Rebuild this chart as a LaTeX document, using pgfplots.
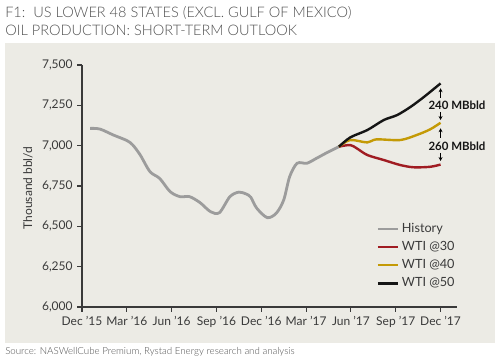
\documentclass[border=0pt]{standalone}
\usepackage{pgfplots}
\pgfplotsset{compat=1.18}
\usetikzlibrary{arrows.meta}
\usepackage{fontspec}
\setmainfont{Lato}
\newfontfamily\lightfont{Lato Light}
\definecolor{bg}{HTML}{ECEBE5}
\definecolor{titlegray}{HTML}{505050}
\definecolor{axisc}{HTML}{3A3A3A}
\definecolor{histgray}{HTML}{9C9C9C}
\definecolor{wtired}{HTML}{A01C22}
\definecolor{wtigold}{HTML}{C49A06}
\definecolor{wtiblack}{HTML}{151515}
\begin{document}
\begin{tikzpicture}
\path[use as bounding box] (0,0) rectangle (375pt,-270.75pt);
\fill[bg] (3.75pt,-32.25pt) rectangle (371.25pt,-257.25pt);
\node[anchor=base west, inner sep=0, font=\lightfont\fontsize{10.9}{13}\selectfont, text=titlegray] at (3.75pt,-13.2pt) {F1:\ \ US LOWER 48 STATES (EXCL. GULF OF MEXICO)};
\node[anchor=base west, inner sep=0, font=\lightfont\fontsize{10.9}{13}\selectfont, text=titlegray] at (3.75pt,-26.25pt) {OIL PRODUCTION: SHORT-TERM OUTLOOK};
\node[anchor=base west, inner sep=0, font=\lightfont\fontsize{7.3}{9}\selectfont, text=titlegray] at (3.75pt,-265.5pt) {Source: NASWellCube Premium, Rystad Energy research and analysis};
\node[rotate=90, inner sep=0, font=\fontsize{9}{11}\selectfont, text=axisc] at (21pt,-141pt) {Thousand bbl/d};
\begin{axis}[
  at={(61.5pt,-230.25pt)}, anchor=south west,
  scale only axis, width=281.25pt, height=181.5pt,
  xmin=0, xmax=25.1, ymin=6000, ymax=7500,
  axis x line=bottom, axis y line=left,
  axis line style={-, draw=axisc, line width=0.8pt},
  tick align=outside, major tick length=3.5pt,
  tick style={draw=axisc, line width=0.8pt},
  xtick={0,3,6,9,12,15,18,21,24},
  xticklabels={Dec '15, Mar '16, Jun '16, Sep '16, Dec '16, Mar '17, Jun '17, Sep '17, Dec '17},
  ytick={6000,6250,6500,6750,7000,7250,7500},
  /pgf/number format/assume math mode=true,
  /pgf/number format/1000 sep={,},
  tick label style={font=\fontsize{9}{11}\selectfont, text=axisc},
  clip=false,
  legend cell align=left,
  legend image code/.code={\draw[#1] (0pt,0pt) -- (15pt,0pt);},
  legend style={at={(axis cs:19.6,6545)}, anchor=north west, draw=none, fill=none,
    font=\fontsize{9.5}{11}\selectfont, text=axisc, row sep=1.2pt, inner sep=1pt,
    cells={inner xsep=1.2pt}},
]
\addplot[histgray, line width=2.1pt, smooth] coordinates {
(0.54,7107) (1.2,7103) (2.1,7066) (3.0,7032) (3.4,7004) (3.9,6942) (4.55,6839) (5.2,6797)
(5.9,6715) (6.56,6684) (7.2,6684) (7.9,6647) (8.6,6591) (9.2,6585) (9.9,6684) (10.5,6712)
(11.0,6700) (11.3,6680) (11.7,6612) (12.4,6554) (13.0,6581) (13.5,6663) (13.9,6808)
(14.4,6891) (15.05,6891) (15.7,6922) (16.4,6957) (17.2,6994)};
\addlegendentry{History}
\addplot[wtired, line width=1.8pt, smooth] coordinates {
(17.2,6994) (17.95,7004) (18.4,6983) (19.1,6942) (20.2,6911) (21.3,6880) (22.2,6866) (23.3,6869) (24.0,6883)};
\addlegendentry{WTI @30}
\addplot[wtigold, line width=1.8pt, smooth] coordinates {
(17.2,6994) (17.95,7035) (19.1,7020) (19.7,7039) (21.3,7035) (22.4,7066) (23.3,7101) (24.0,7142)};
\addlegendentry{WTI @40}
\addplot[wtiblack, line width=1.8pt, smooth] coordinates {
(17.2,6994) (17.95,7051) (19.1,7097) (20.2,7159) (21.1,7190) (22.0,7241) (22.9,7303) (24.0,7386)};
\addlegendentry{WTI @50}
\draw[-{Stealth[length=3pt,width=3pt]}, line width=0.7pt] (axis cs:24,7297) -- (axis cs:24,7356);
\draw[-{Stealth[length=3pt,width=3pt]}, line width=0.7pt] (axis cs:24,7209) -- (axis cs:24,7159);
\draw[-{Stealth[length=3pt,width=3pt]}, line width=0.7pt] (axis cs:24,7048) -- (axis cs:24,7108);
\draw[-{Stealth[length=3pt,width=3pt]}, line width=0.7pt] (axis cs:24,6955) -- (axis cs:24,6905);
\node[font=\bfseries\fontsize{8.6}{10}\selectfont, text=wtiblack, inner sep=0] at (axis cs:25.1,7248) {240 MBbld};
\node[font=\bfseries\fontsize{8.6}{10}\selectfont, text=wtiblack, inner sep=0] at (axis cs:25.1,6998) {260 MBbld};
\end{axis}
\end{tikzpicture}
\end{document}
